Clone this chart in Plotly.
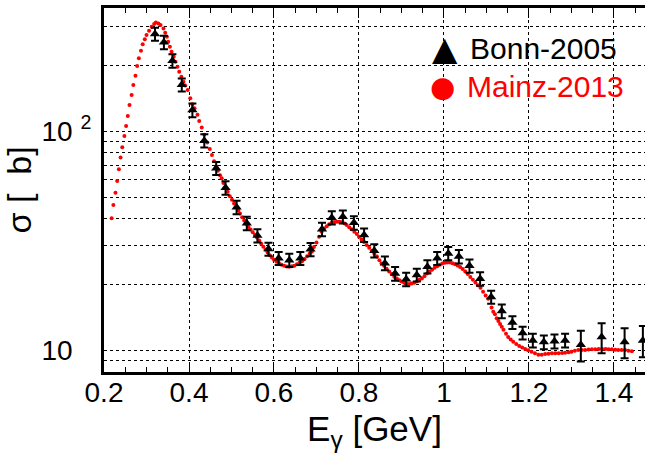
import plotly.graph_objects as go

# ---------------- data ----------------
bonn_E = [0.320, 0.341, 0.361, 0.383, 0.408, 0.436, 0.464, 0.486, 0.512, 0.536,
          0.561, 0.587, 0.611, 0.636, 0.662, 0.686, 0.713, 0.736, 0.762, 0.788,
          0.812, 0.836, 0.861, 0.885, 0.911, 0.936, 0.961, 0.984, 1.010, 1.035,
          1.060, 1.085, 1.111, 1.136, 1.161, 1.185, 1.209, 1.235, 1.260, 1.285,
          1.322, 1.371, 1.425, 1.468]
bonn_sigma = [278, 255, 210, 163, 125, 90.6, 67.8, 55.2, 45.0, 38.0,
              33.4, 29.0, 26.3, 25.8, 26.3, 28.9, 35.7, 40.3, 40.7, 38.2,
              33.6, 28.5, 25.0, 22.4, 21.1, 22.1, 24.1, 26.3, 27.7, 26.8,
              24.3, 21.2, 17.5, 15.1, 13.4, 12.0, 11.1, 10.9, 11.0, 11.1,
              10.6, 11.5, 10.9, 11.1]
bonn_err = [19, 18, 15, 11, 9, 6.3, 4.7, 3.9, 3.2, 2.7,
            2.3, 2.0, 1.8, 1.8, 1.8, 2.0, 2.5, 2.8, 2.8, 2.7,
            2.4, 2.0, 1.8, 1.6, 1.5, 1.5, 1.7, 1.8, 1.9, 1.9,
            1.7, 1.5, 1.2, 1.1, 0.9, 0.8, 0.8, 0.8, 0.8, 0.8,
            1.7, 1.8, 1.7, 1.8]

mainz_E = [0.218, 0.222, 0.227, 0.231, 0.235, 0.239, 0.243, 0.248, 0.252, 0.256,
           0.260, 0.265, 0.269, 0.274, 0.278, 0.282, 0.287, 0.291, 0.296, 0.300,
           0.306, 0.312, 0.318, 0.322, 0.328, 0.333, 0.340, 0.344, 0.348, 0.351,
           0.355, 0.359, 0.364, 0.368, 0.373, 0.377, 0.382, 0.387, 0.391, 0.397,
           0.403, 0.408, 0.413, 0.420, 0.424, 0.430, 0.436, 0.443, 0.449, 0.454,
           0.459, 0.464, 0.468, 0.473, 0.477, 0.481, 0.486, 0.491, 0.496, 0.501,
           0.506, 0.511, 0.516, 0.520, 0.525, 0.530, 0.535, 0.540, 0.545, 0.550,
           0.555, 0.560, 0.565, 0.570, 0.575, 0.580, 0.585, 0.590, 0.595, 0.600,
           0.606, 0.612, 0.618, 0.624, 0.630, 0.636, 0.642, 0.648, 0.654, 0.660,
           0.666, 0.672, 0.678, 0.684, 0.689, 0.694, 0.700, 0.706, 0.712, 0.718,
           0.724, 0.730, 0.736, 0.742, 0.748, 0.754, 0.760, 0.766, 0.771, 0.777,
           0.783, 0.789, 0.795, 0.800, 0.806, 0.812, 0.818, 0.824, 0.830, 0.836,
           0.842, 0.848, 0.853, 0.859, 0.865, 0.871, 0.877, 0.883, 0.889, 0.895,
           0.900, 0.906, 0.912, 0.918, 0.924, 0.930, 0.936, 0.942, 0.948, 0.954,
           0.960, 0.966, 0.972, 0.978, 0.984, 0.990, 0.996, 1.002, 1.008, 1.014,
           1.020, 1.026, 1.032, 1.038, 1.044, 1.050, 1.056, 1.062, 1.068, 1.074,
           1.080, 1.086, 1.092, 1.098, 1.104, 1.112, 1.116, 1.120, 1.124, 1.128,
           1.132, 1.136, 1.140, 1.146, 1.151, 1.157, 1.163, 1.170, 1.177, 1.184,
           1.191, 1.198, 1.206, 1.214, 1.222, 1.230, 1.238, 1.246, 1.254, 1.262,
           1.270, 1.278, 1.285, 1.293, 1.300, 1.308, 1.316, 1.324, 1.332, 1.340,
           1.348, 1.356, 1.364, 1.372, 1.380, 1.387, 1.395, 1.403, 1.410, 1.418,
           1.426, 1.434, 1.442]
mainz_sigma = [40.1, 46.1, 52.4, 59.3, 67.1, 76.0, 84.5, 95.2, 105.7, 117.4,
               131.9, 146.5, 162.7, 179.4, 198.7, 215.4, 233.4, 249.6, 263.0, 275.4,
               287.7, 300.4, 309.0, 313.6, 311.0, 305.6, 295.0, 281.8, 270.0, 256.6,
               243.4, 231.0, 219.0, 208.0, 197.3, 187.2, 177.6, 168.5, 162.0, 154.5,
               141.5, 133.0, 127.3, 119.0, 111.5, 104.0, 96.5, 89.0, 83.0, 78.0,
               73.0, 68.9, 66.0, 63.0, 61.0, 58.0, 55.5, 53.0, 50.5, 48.7,
               46.8, 45.0, 43.5, 42.1, 40.5, 39.1, 37.7, 36.6, 35.6, 34.6,
               33.6, 32.7, 31.7, 30.7, 29.7, 28.8, 28.0, 27.2, 26.5, 25.9,
               25.4, 25.0, 24.6, 24.3, 24.15, 24.1, 24.2, 24.35, 24.7, 25.1,
               25.5, 26.1, 26.9, 27.6, 28.2, 29.6, 31.1, 33.0, 34.8, 36.0,
               36.9, 37.6, 38.2, 38.5, 38.6, 38.6, 38.4, 37.9, 37.3, 36.5,
               35.7, 34.8, 34.0, 33.0, 32.1, 31.2, 30.3, 29.4, 28.5, 27.6,
               26.8, 25.8, 24.9, 24.3, 23.6, 22.9, 22.3, 21.7, 21.3, 20.9,
               20.6, 20.35, 20.15, 20.1, 20.2, 20.35, 20.6, 21.0, 21.3, 21.8,
               22.4, 22.9, 23.3, 23.8, 24.2, 24.6, 24.9, 25.1, 25.2, 25.2,
               25.0, 24.7, 24.4, 24.0, 23.5, 22.9, 22.3, 21.6, 21.0, 20.4,
               19.8, 19.3, 18.5, 17.8, 17.2, 15.7, 15.0, 14.6, 14.0, 13.6,
               13.2, 12.8, 12.4, 11.9, 11.5, 11.2, 10.95, 10.7, 10.46, 10.3,
               10.14, 10.0, 9.85, 9.7, 9.55, 9.55, 9.62, 9.65, 9.69, 9.69,
               9.7, 9.72, 9.75, 9.8, 9.85, 9.95, 10.03, 10.03, 10.03, 10.08,
               10.1, 10.12, 10.14, 10.14, 10.14, 10.12, 10.1, 10.05, 10.03, 10.03,
               10.03, 9.95, 9.9]

x_tickvals = [0.2, 0.4, 0.6, 0.8, 1.0, 1.2, 1.4]
x_ticktext = ["0.2", "0.4", "0.6", "0.8", "1", "1.2", "1.4"]
y_gridvals = [9, 10, 20, 30, 40, 50, 60, 70, 80, 90, 100, 200, 300]
y_ticktext = ["", "10 <sup><span style='color:white'>2</span></sup>", "", "", "", "", "", "", "", "",
              "10 <sup>2</sup>", "", ""]

FONT = "Liberation Sans, Arial, Helvetica, sans-serif"

fig = go.Figure()

fig.add_trace(go.Scatter(
    x=mainz_E, y=mainz_sigma, mode="markers", name="Mainz-2013",
    marker=dict(symbol="circle", size=4, color="#ff0000", line=dict(width=0)),
    showlegend=False,
))

fig.add_trace(go.Scatter(
    x=bonn_E, y=bonn_sigma, mode="markers", name="Bonn-2005",
    marker=dict(symbol="triangle-up", size=9, color="black", line=dict(width=0)),
    error_y=dict(type="data", array=bonn_err, visible=True, color="black",
                 thickness=2, width=4),
    showlegend=False,
))

# legend as text
fig.add_annotation(x=0.6303, y=0.8874, xref="paper", yref="paper", text="▲",
                   showarrow=False, xanchor="center", yanchor="middle",
                   font=dict(family="DejaVu Sans", size=33, color="black"))
fig.add_annotation(x=0.6728, y=0.8874, xref="paper", yref="paper", text="Bonn-2005",
                   showarrow=False, xanchor="left", yanchor="middle",
                   font=dict(family=FONT, size=30, color="black"))
fig.add_annotation(x=0.6266, y=0.783, xref="paper", yref="paper", text="●",
                   showarrow=False, xanchor="center", yanchor="middle",
                   font=dict(family="DejaVu Sans", size=29, color="#ff0000"))
fig.add_annotation(x=0.6673, y=0.783, xref="paper", yref="paper", text="Mainz-2013",
                   showarrow=False, xanchor="left", yanchor="middle",
                   font=dict(family=FONT, size=30, color="#ff0000"))

fig.update_layout(
    width=645, height=459,
    margin=dict(l=104, r=0, t=8, b=87),
    paper_bgcolor="white", plot_bgcolor="white",
    font=dict(family=FONT, color="black"),
    showlegend=False,
)

fig.update_xaxes(
    range=[0.2, 1.473],
    tickvals=x_tickvals, ticktext=x_ticktext,
    tickfont=dict(size=28, family=FONT),
    ticks="inside", ticklen=10, tickwidth=1, tickcolor="black",
    ticklabelstandoff=-7,
    minor=dict(dtick=0.05, tick0=0.2, ticks="inside", ticklen=5, tickcolor="black", showgrid=False),
    showline=True, linewidth=3, linecolor="black", mirror="ticks",
    showgrid=True, gridcolor="black", gridwidth=1, griddash="dot",
    zeroline=False,
    title=dict(text="E<sub>γ</sub> [GeV]", font=dict(size=35, family=FONT), standoff=10),
)

fig.update_yaxes(
    type="log", range=[0.901, 2.563],
    tickvals=y_gridvals, ticktext=y_ticktext,
    tickfont=dict(size=28, family=FONT),
    ticks="", ticklabelstandoff=4,
    showline=True, linewidth=3, linecolor="black",
    showgrid=True, gridcolor="black", gridwidth=1, griddash="dot",
    zeroline=False,
    title=dict(text="σ [\u00a0\u00a0b]", font=dict(size=34, family=FONT), standoff=14),
)

fig.write_html("out.html",
               config={"displayModeBar": False},
               post_script="document.body.style.margin='0';document.body.style.overflow='hidden';")
